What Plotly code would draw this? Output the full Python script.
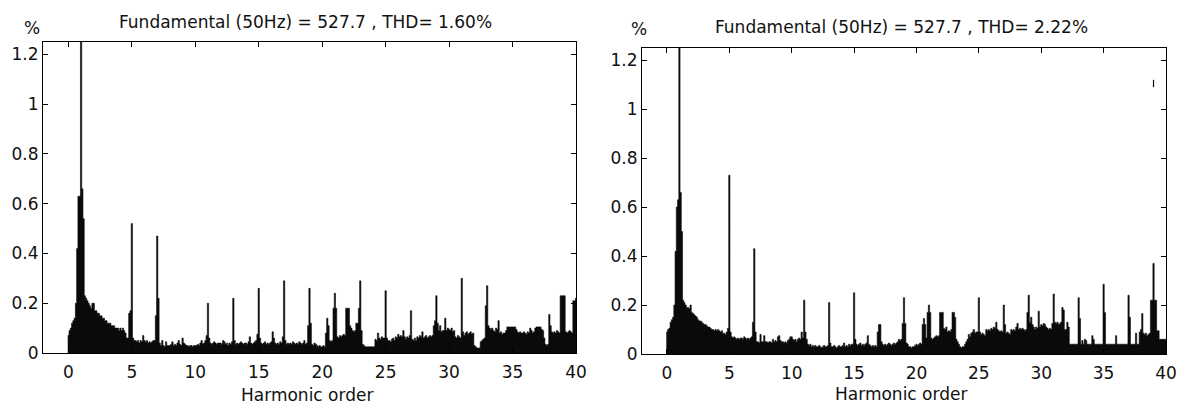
import plotly.graph_objects as go

# harmonic order axis: FFT bins every 0.1 harmonic (5 Hz) from 0 to 40
harmonic = [k / 10 for k in range(401)]

# left spectrum, THD = 1.60 %  (one row per harmonic, k.0 ... k.9)
thd160_pct = [
    0.07, 0.09, 0.10, 0.12, 0.13, 0.14, 0.20, 0.42, 0.63, 0.63,
    100, 0.66, 0.54, 0.23, 0.22, 0.21, 0.20, 0.19, 0.18, 0.20,
    0.20, 0.17, 0.17, 0.16, 0.16, 0.15, 0.15, 0.14, 0.14, 0.13,
    0.13, 0.12, 0.12, 0.12, 0.11, 0.11, 0.11, 0.10, 0.10, 0.10,
    0.09, 0.10, 0.09, 0.10, 0.09, 0.08, 0.06, 0.06, 0.16, 0.17,
    0.52, 0.06, 0.05, 0.05, 0.045, 0.05, 0.04, 0.05, 0.045, 0.07,
    0.05, 0.045, 0.05, 0.04, 0.045, 0.04, 0.045, 0.05, 0.05, 0.15,
    0.47, 0.22, 0.04, 0.03, 0.05, 0.03, 0.025, 0.045, 0.03, 0.03,
    0.03, 0.035, 0.045, 0.03, 0.035, 0.03, 0.04, 0.05, 0.035, 0.03,
    0.06, 0.04, 0.035, 0.03, 0.03, 0.025, 0.03, 0.03, 0.025, 0.03,
    0.03, 0.03, 0.035, 0.03, 0.04, 0.05, 0.035, 0.04, 0.05, 0.07,
    0.20, 0.06, 0.04, 0.035, 0.04, 0.045, 0.04, 0.035, 0.04, 0.04,
    0.04, 0.035, 0.05, 0.045, 0.035, 0.04, 0.03, 0.04, 0.035, 0.045,
    0.22, 0.05, 0.035, 0.04, 0.035, 0.04, 0.045, 0.04, 0.035, 0.04,
    0.04, 0.035, 0.045, 0.065, 0.04, 0.035, 0.04, 0.045, 0.05, 0.075,
    0.26, 0.06, 0.04, 0.035, 0.04, 0.045, 0.035, 0.04, 0.035, 0.04,
    0.045, 0.085, 0.06, 0.04, 0.035, 0.04, 0.035, 0.045, 0.04, 0.065,
    0.29, 0.05, 0.035, 0.04, 0.035, 0.04, 0.035, 0.045, 0.04, 0.035,
    0.04, 0.035, 0.045, 0.04, 0.035, 0.04, 0.05, 0.035, 0.04, 0.11,
    0.26, 0.12, 0.035, 0.03, 0.04, 0.035, 0.03, 0.025, 0.03, 0.025,
    0.025, 0.03, 0.025, 0.08, 0.14, 0.11, 0.05, 0.045, 0.05, 0.18,
    0.24, 0.18, 0.065, 0.06, 0.07, 0.065, 0.07, 0.075, 0.07, 0.18,
    0.18, 0.18, 0.11, 0.10, 0.09, 0.085, 0.09, 0.12, 0.12, 0.18,
    0.29, 0.09, 0.035, 0.03, 0.025, 0.025, 0.025, 0.025, 0.025, 0.025,
    0.025, 0.025, 0.055, 0.05, 0.08, 0.06, 0.055, 0.065, 0.06, 0.06,
    0.25, 0.06, 0.05, 0.05, 0.045, 0.055, 0.06, 0.05, 0.065, 0.06,
    0.075, 0.065, 0.07, 0.065, 0.09, 0.065, 0.055, 0.065, 0.06, 0.07,
    0.17, 0.055, 0.05, 0.06, 0.05, 0.065, 0.06, 0.07, 0.065, 0.085,
    0.06, 0.065, 0.07, 0.06, 0.065, 0.07, 0.065, 0.07, 0.11, 0.13,
    0.23, 0.12, 0.09, 0.11, 0.085, 0.09, 0.09, 0.14, 0.09, 0.10,
    0.095, 0.09, 0.10, 0.085, 0.09, 0.065, 0.06, 0.07, 0.065, 0.06,
    0.30, 0.085, 0.07, 0.08, 0.085, 0.075, 0.08, 0.085, 0.075, 0.08,
    0.03, 0.025, 0.02, 0.02, 0.02, 0.045, 0.05, 0.055, 0.06, 0.19,
    0.27, 0.11, 0.10, 0.095, 0.10, 0.09, 0.085, 0.10, 0.095, 0.13,
    0.08, 0.085, 0.075, 0.08, 0.08, 0.09, 0.105, 0.105, 0.105, 0.105,
    0.105, 0.105, 0.105, 0.095, 0.085, 0.08, 0.085, 0.08, 0.08, 0.085,
    0.08, 0.075, 0.085, 0.08, 0.10, 0.09, 0.08, 0.085, 0.10, 0.105,
    0.105, 0.105, 0.105, 0.095, 0.09, 0.06, 0.035, 0.03, 0.035, 0.155,
    0.11, 0.085, 0.08, 0.085, 0.08, 0.09, 0.085, 0.08, 0.23, 0.23,
    0.23, 0.23, 0.085, 0.08, 0.085, 0.09, 0.085, 0.08, 0.21, 0.21,
    0.22,
]

# right spectrum, THD = 2.22 %
thd222_pct = [
    0.09, 0.10, 0.105, 0.13, 0.14, 0.15, 0.20, 0.42, 0.60, 0.63,
    100, 0.66, 0.50, 0.22, 0.21, 0.20, 0.19, 0.19, 0.185, 0.20,
    0.17, 0.165, 0.16, 0.155, 0.15, 0.14, 0.135, 0.135, 0.13, 0.125,
    0.12, 0.12, 0.115, 0.11, 0.11, 0.105, 0.10, 0.10, 0.095, 0.10,
    0.095, 0.10, 0.095, 0.09, 0.095, 0.085, 0.085, 0.08, 0.09, 0.105,
    0.73, 0.09, 0.07, 0.065, 0.07, 0.065, 0.06, 0.065, 0.06, 0.065,
    0.065, 0.06, 0.07, 0.065, 0.06, 0.065, 0.06, 0.065, 0.07, 0.13,
    0.43, 0.09, 0.05, 0.05, 0.045, 0.08, 0.05, 0.05, 0.075, 0.05,
    0.05, 0.045, 0.05, 0.05, 0.045, 0.06, 0.05, 0.055, 0.05, 0.07,
    0.075, 0.055, 0.05, 0.05, 0.045, 0.05, 0.045, 0.055, 0.06, 0.07,
    0.07, 0.06, 0.055, 0.06, 0.05, 0.06, 0.065, 0.06, 0.09, 0.065,
    0.22, 0.09, 0.06, 0.04, 0.035, 0.04, 0.03, 0.035, 0.03, 0.035,
    0.03, 0.03, 0.035, 0.03, 0.025, 0.03, 0.035, 0.03, 0.03, 0.035,
    0.21, 0.045, 0.03, 0.03, 0.035, 0.03, 0.025, 0.03, 0.035, 0.03,
    0.03, 0.035, 0.045, 0.03, 0.035, 0.03, 0.04, 0.035, 0.04, 0.04,
    0.25, 0.06, 0.04, 0.035, 0.04, 0.045, 0.035, 0.04, 0.035, 0.04,
    0.045, 0.075, 0.04, 0.035, 0.03, 0.035, 0.03, 0.035, 0.03, 0.09,
    0.12, 0.12, 0.05, 0.04, 0.035, 0.04, 0.035, 0.04, 0.045, 0.04,
    0.035, 0.04, 0.045, 0.04, 0.045, 0.05, 0.06, 0.055, 0.06, 0.125,
    0.23, 0.125, 0.045, 0.04, 0.03, 0.03, 0.025, 0.03, 0.03, 0.035,
    0.04, 0.035, 0.04, 0.045, 0.04, 0.12, 0.145, 0.12, 0.065, 0.17,
    0.20, 0.17, 0.065, 0.06, 0.065, 0.07, 0.075, 0.07, 0.075, 0.17,
    0.17, 0.17, 0.105, 0.10, 0.11, 0.09, 0.095, 0.09, 0.10, 0.17,
    0.17, 0.15, 0.06, 0.05, 0.04, 0.03, 0.025, 0.03, 0.03, 0.04,
    0.05, 0.06, 0.08, 0.07, 0.085, 0.09, 0.10, 0.085, 0.09, 0.09,
    0.23, 0.09, 0.08, 0.085, 0.08, 0.075, 0.10, 0.095, 0.10, 0.095,
    0.105, 0.10, 0.11, 0.105, 0.13, 0.10, 0.095, 0.09, 0.095, 0.09,
    0.20, 0.12, 0.085, 0.09, 0.085, 0.08, 0.10, 0.095, 0.10, 0.095,
    0.11, 0.125, 0.10, 0.105, 0.10, 0.105, 0.10, 0.095, 0.10, 0.17,
    0.24, 0.13, 0.15, 0.12, 0.11, 0.10, 0.11, 0.105, 0.175, 0.11,
    0.12, 0.115, 0.125, 0.12, 0.11, 0.105, 0.10, 0.105, 0.10, 0.125,
    0.245, 0.13, 0.125, 0.13, 0.12, 0.125, 0.13, 0.19, 0.18, 0.10,
    0.10, 0.13, 0.11, 0.04, 0.04, 0.04, 0.04, 0.04, 0.04, 0.04,
    0.23, 0.145, 0.04, 0.055, 0.04, 0.06, 0.055, 0.04, 0.04, 0.04,
    0.04, 0.075, 0.06, 0.04, 0.04, 0.04, 0.04, 0.04, 0.04, 0.04,
    0.285, 0.17, 0.04, 0.04, 0.04, 0.04, 0.04, 0.04, 0.04, 0.04,
    0.075, 0.04, 0.04, 0.04, 0.04, 0.04, 0.04, 0.04, 0.04, 0.04,
    0.24, 0.15, 0.04, 0.04, 0.04, 0.04, 0.085, 0.04, 0.04, 0.09,
    0.10, 0.165, 0.085, 0.08, 0.085, 0.075, 0.08, 0.085, 0.22, 0.22,
    0.37, 0.22, 0.22, 0.095, 0.095, 0.06, 0.06, 0.06, 0.06, 0.06,
    0.06,
]

# small stray segment seen near the top right of the second plot
stray_h = [39.0, 39.0]
stray_pct = [1.09, 1.12]

titles = ["Fundamental (50Hz) = 527.7 , THD= 1.60%",
          "Fundamental (50Hz) = 527.7 , THD= 2.22%"]
x_ticks = [0, 5, 10, 15, 20, 25, 30, 35, 40]
y_ticks = [0, 0.2, 0.4, 0.6, 0.8, 1.0, 1.2]
y_tick_text = ["0", "0.2", "0.4", "0.6", "0.8", "1", "1.2"]

W, H = 1179, 406
FONT = "DejaVu Sans"
ink = "#0a0a0a"
BIN = 0.1


def spectrum(values, xa, ya):
    # each FFT bin drawn as a filled step of width BIN centred on its harmonic
    xs = [h - BIN / 2 for h in harmonic] + [harmonic[-1] + BIN / 2]
    ys = list(values) + [values[-1]]
    return go.Scatter(x=xs, y=ys, mode="lines", line=dict(color=ink, width=0.6, shape="hv"),
                      fill="tozeroy", fillcolor=ink, xaxis=xa, yaxis=ya, showlegend=False,
                      hoverinfo="skip")


fig = go.Figure()
fig.add_trace(spectrum(thd160_pct, "x", "y"))
fig.add_trace(spectrum(thd222_pct, "x2", "y2"))
fig.add_trace(go.Scatter(x=stray_h, y=stray_pct, mode="lines", line=dict(color=ink, width=1.2),
                         xaxis="x2", yaxis="y2", showlegend=False, hoverinfo="skip"))


def px_x(p):
    return p / W


def px_y(p):
    return 1 - p / H


tick_font = dict(family=FONT, size=17, color="#111")
xa = dict(range=[-2, 40], tickvals=x_ticks, ticks="inside", ticklen=5, tickcolor="black",
          showline=True, linecolor="black", linewidth=1, mirror="ticks", showgrid=False, zeroline=False,
          automargin=False, tickfont=tick_font, ticklabelstandoff=4)
ya = dict(range=[0, 1.25], tickvals=y_ticks, ticktext=y_tick_text, ticks="inside", ticklen=5, tickcolor="black",
          showline=True, linecolor="black", linewidth=1, mirror="ticks", showgrid=False, zeroline=False,
          automargin=False, tickfont=tick_font)

fig.update_layout(
    width=W, height=H, margin=dict(l=0, r=0, t=0, b=0),
    paper_bgcolor="white", plot_bgcolor="white",
    xaxis=dict(xa, domain=[px_x(43), px_x(576)], anchor="y"),
    yaxis=dict(ya, domain=[px_y(353), px_y(42)], anchor="x"),
    xaxis2=dict(xa, domain=[px_x(642), px_x(1166)], anchor="y2"),
    yaxis2=dict(ya, domain=[px_y(354), px_y(48)], anchor="x2"),
)

txt = dict(family=FONT, size=17, color="#111")
notes = [
    (305, 22, titles[0]), (901, 27, titles[1]),
    (32, 28, "%"), (639, 29, "%"),
    (307, 395, "Harmonic order"), (901, 394, "Harmonic order"),
]
for x, y, t in notes:
    fig.add_annotation(x=px_x(x), y=px_y(y), xref="paper", yref="paper", text=t, showarrow=False,
                       xanchor="center", yanchor="middle", font=txt)

# page body has a default 8px margin; drop it so the figure sits at the window origin
fig.write_html("out.html", config={"displayModeBar": False},
               post_script="document.body.style.margin='0';document.body.style.overflow='hidden';")
